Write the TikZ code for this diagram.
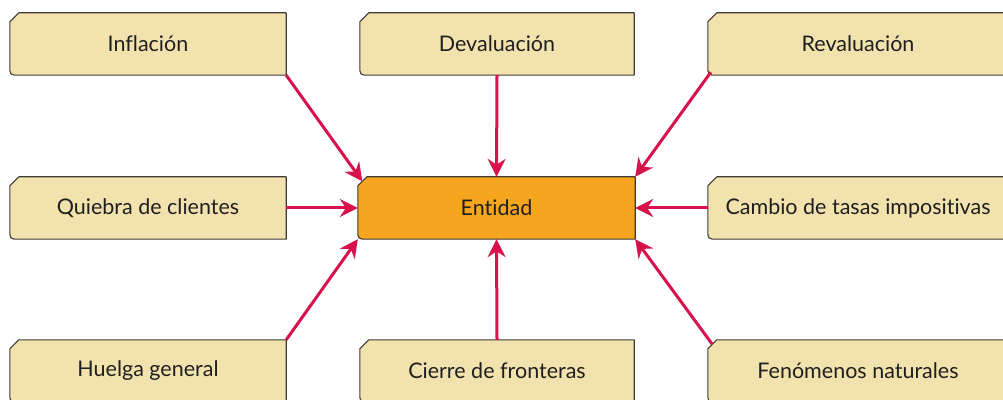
\documentclass[tikz,border=0pt]{standalone}
\usepackage{fontspec}
\setmainfont{Lato}[Ligatures=NoCommon]
\usetikzlibrary{arrows.meta}
\definecolor{beige}{HTML}{F2E2AE}
\definecolor{orangebox}{HTML}{F6A51F}
\definecolor{edge}{HTML}{3F3A35}
\definecolor{arrowred}{HTML}{D8124A}
\newcommand\boxshape[2]{%
  \fill[#2] ([xshift=9pt]#1.north west) -- (#1.north east) -- (#1.south east) -- ([xshift=10pt]#1.south west) .. controls (#1.south west) .. ([yshift=10pt]#1.south west) -- ([yshift=-9pt]#1.north west) -- cycle;
  \draw[edge,line width=1.1pt,line join=round] ([xshift=9pt]#1.north west) -- (#1.north east) -- (#1.south east) -- ([xshift=10pt]#1.south west) .. controls (#1.south west) .. ([yshift=10pt]#1.south west) -- ([yshift=-9pt]#1.north west) -- cycle;
}
\tikzset{
  x=1pt,y=1pt,
  boxnode/.style={minimum height=62pt,inner sep=0pt,text=black!88,font=\fontsize{21.5}{24}\selectfont},
  conn/.style={arrowred,line width=3pt,-{Stealth[length=18pt,width=18pt,inset=6pt]}}
}
\begin{document}
\begin{tikzpicture}
\useasboundingbox (0,0) rectangle (1003,399);
\clip (0,0) rectangle (1003,399);
% nodes
\node[boxnode,minimum width=276pt] (infl) at (148,355) {};
\node[boxnode,minimum width=274pt] (deval) at (497,355) {};
\node[boxnode,minimum width=300pt] (reval) at (858,355) {};
\node[boxnode,minimum width=276pt] (quie) at (148,191) {};
\node[boxnode,minimum width=277pt] (ent) at (496.5,191) {};
\node[boxnode,minimum width=300pt] (camb) at (858,191) {};
\node[boxnode,minimum width=276pt] (huel) at (148,28) {};
\node[boxnode,minimum width=274pt] (cier) at (497,28) {};
\node[boxnode,minimum width=300pt] (fen) at (858,28) {};
\boxshape{infl}{beige}
\boxshape{deval}{beige}
\boxshape{reval}{beige}
\boxshape{quie}{beige}
\boxshape{ent}{orangebox}
\boxshape{camb}{beige}
\boxshape{huel}{beige}
\boxshape{cier}{beige}
\boxshape{fen}{beige}
\node[boxnode] (tinfl) at (infl) {Inflación};
\node[boxnode] (tdeval) at (deval) {Devaluación};
\node[boxnode] (treval) at (reval) {Revaluación};
\node[boxnode] (tquie) at (quie) {Quiebra de clientes};
\node[boxnode] (tent) at (ent) {Entidad};
\node[boxnode] (tcamb) at (camb) {Cambio de tasas impositivas};
\node[boxnode] (thuel) at (huel) {Huelga general};
\node[boxnode] (tcier) at (cier) {Cierre de fronteras};
\node[boxnode] (tfen) at (fen) {Fenómenos naturales};
% connectors
\draw[conn] (infl.south east) -- ([xshift=4.5pt,yshift=-4.5pt]ent.north west);
\draw[conn] (deval.south) -- (ent.north);
\draw[conn] ([xshift=3pt,yshift=3pt]reval.south west) -- (ent.north east);
\draw[conn] (quie.east) -- (ent.west);
\draw[conn] (camb.west) -- (ent.east);
\draw[conn] (huel.north east) -- (ent.south west);
\draw[conn] (cier.north) -- (ent.south);
\draw[conn] ([xshift=4.5pt,yshift=-4.5pt]fen.north west) -- (ent.south east);
\end{tikzpicture}
\end{document}
